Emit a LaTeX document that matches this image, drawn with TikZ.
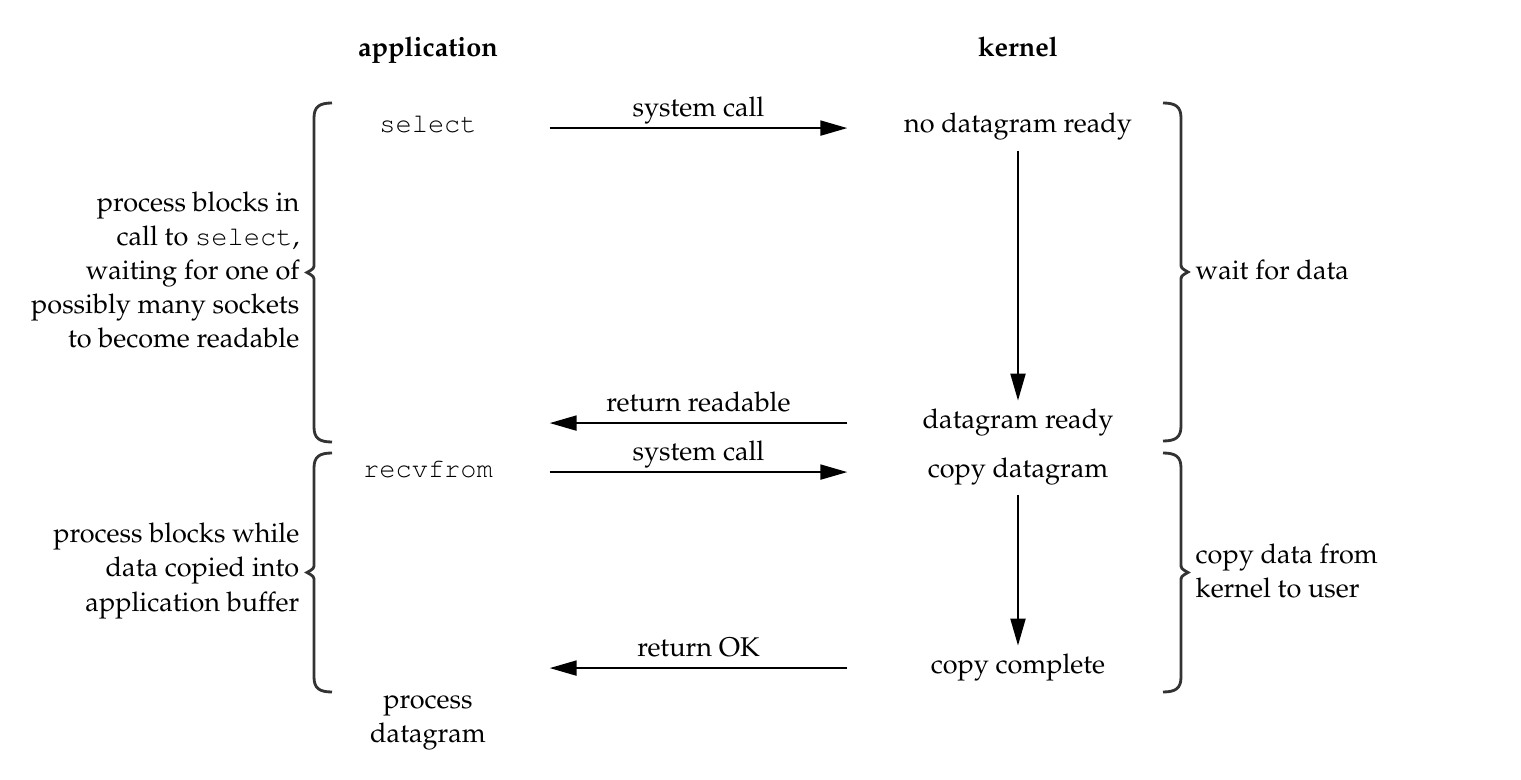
\documentclass[tikz,border=0pt]{standalone}
\usepackage[T1]{fontenc}
\usepackage{mathpazo}
\usepackage{courier}
\usepackage{tikz}
\usetikzlibrary{calc,positioning,arrows.meta}

\begin{document}
\begin{tikzpicture}
  [every node/.style={font=\fontsize{7.7}{9.7}\selectfont, inner sep=0pt},
   col/.style={text height=5.4pt, text depth=2.6pt, inner xsep=0pt,
     inner ysep=2.2pt, anchor=base},
   appCol/.style={col, minimum width=2.42cm},
   kernCol/.style={col, minimum width=3.40cm},
   callArrow/.style={line width=.6pt, ->, >={Triangle[length=.27cm,width=.15cm]}},
   callLabel/.style={above, text height=5.4pt, text depth=2.6pt, inner sep=.3pt},
   braceLine/.style={line width=.8pt, color=black!80}]

  \useasboundingbox (0,0) rectangle (15.21,7.79);

  % column heads
  \node [anchor=base, font=\fontsize{7.7}{9.7}\selectfont\bfseries] (appHead) at (4.28,7.22) {application};
  \node [anchor=base, font=\fontsize{7.7}{9.7}\selectfont\bfseries] (kernHead) at (10.18,7.22) {kernel};

  % the two columns
  \node [appCol] (selectCall) at (4.28,6.46) {\texttt{select}};
  \node [kernCol] (noData) at (10.18,6.46) {no datagram ready};
  \node [kernCol] (dataReady) at (10.18,3.51) {datagram ready};
  \node [appCol] (recvCall) at (4.28,3.02) {\texttt{recvfrom}};
  \node [kernCol] (copyData) at (10.18,3.02) {copy datagram};
  \node [kernCol] (copyDone) at (10.18,1.06) {copy complete};
  \node [align=center] (procData) at (4.28,0.56) {process\\datagram};

  \draw [callArrow] (selectCall) -- node [callLabel] (sysCallA) {system call} (noData);
  \draw [callArrow] (noData) -- (dataReady);
  \draw [callArrow] (dataReady.west) -- node [callLabel] (retReadable) {return readable}
    (dataReady.west -| selectCall.east);

  \draw [callArrow] (recvCall) -- node [callLabel] (sysCallB) {system call} (copyData);
  \draw [callArrow] (copyData) -- (copyDone);
  \draw [callArrow] (copyDone.west) -- node [callLabel] (retOK) {return OK}
    (copyDone.west -| recvCall.east);

  % notes beside the braces
  \node [align=right, anchor=east] (blockNote) at (3.00,5.09)
    {process blocks in\\call to \texttt{select},\\waiting for one of\\possibly many sockets\\to become readable};
  \node [align=right, anchor=east] (copyNote) at (3.00,2.08)
    {process blocks while\\data copied into\\application buffer};
  \node [align=left, anchor=west] (waitNote) at (11.95,5.09) {wait for data};
  \node [align=left, anchor=west] (userNote) at (11.95,2.08) {copy data from\\kernel to user};

  % braces
  \foreach \xEnd/\flip/\yTop/\yBot in {3.32/1/6.76/3.37, 3.32/1/3.26/0.87,
                                       11.63/-1/6.76/3.38, 11.63/-1/3.26/0.87}
  {
    \pgfmathsetmacro{\yMid}{(\yTop+\yBot)/2}
    \draw [braceLine, shift={(\xEnd,0)}, xscale=\flip]
      (0,\yTop) .. controls (-.13,\yTop) and (-.18,\yTop-.04) .. (-.18,\yTop-.15)
      -- (-.18,\yMid+.09) .. controls (-.18,\yMid+.04) .. (-.25,\yMid)
      .. controls (-.18,\yMid-.04) .. (-.18,\yMid-.09)
      -- (-.18,\yBot+.15) .. controls (-.18,\yBot+.04) and (-.13,\yBot) .. (0,\yBot);
  }

\end{tikzpicture}
\end{document}
